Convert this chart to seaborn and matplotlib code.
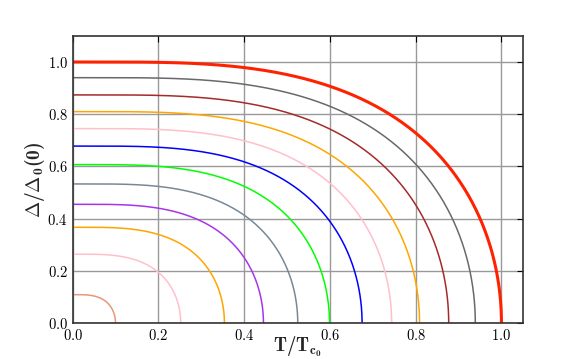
import numpy as np
import pandas as pd
import seaborn as sns
import matplotlib
matplotlib.use("Agg")
import matplotlib.pyplot as plt
from matplotlib.ticker import FuncFormatter

# gap at T=0 and critical temperature of each curve
gap0 = [1.0, 0.940, 0.874, 0.810, 0.745, 0.678, 0.607, 0.533, 0.455, 0.367, 0.264, 0.109]
tc = [1.0, 0.939, 0.877, 0.809, 0.744, 0.675, 0.599, 0.525, 0.445, 0.354, 0.252, 0.100]
colors = ['#ff2200', 'dimgray', 'brown', 'orange', 'pink', 'blue', 'lime',
          'lightslategray', '#a535ec', 'orange', 'pink', 'darksalmon']
widths = [2.2] + [1.1] * 11

xticks = [0.0, 0.2, 0.4, 0.6, 0.8, 1.0]
yticks = [0.0, 0.2, 0.4, 0.6, 0.8, 1.0]


def gap_curve(d0, t_c, n=400):
    """BCS-like interpolation of the gap from T=0 up to t_c."""
    theta = np.linspace(0, np.pi / 2, n)
    t = t_c * np.sin(theta)
    with np.errstate(divide='ignore'):
        d = d0 * np.tanh(1.85 * np.sqrt(np.where(t > 0, t_c / np.maximum(t, 1e-12) - 1, np.inf)))
    d[-1] = 0.0
    return pd.DataFrame({'T': t, 'gap': d})


sns.set_style("white")
plt.rcParams['font.family'] = 'serif'
plt.rcParams['mathtext.fontset'] = 'custom'
plt.rcParams['mathtext.rm'] = 'cmr10'
plt.rcParams['mathtext.bf'] = 'cmb10'
plt.rcParams['xtick.direction'] = 'in'
plt.rcParams['ytick.direction'] = 'in'

fig, ax = plt.subplots(figsize=(5.81, 3.59), dpi=100)
fig.subplots_adjust(left=0.125, right=0.9, bottom=0.1, top=0.9)

for d0, t_c, c, w in zip(gap0, tc, colors, widths):
    df = gap_curve(d0, t_c)
    sns.lineplot(data=df, x='T', y='gap', color=c, linewidth=w, ax=ax,
                 sort=False, estimator=None)

ax.set_xlim(0, 1.05)
ax.set_ylim(0, 1.1)
ax.set_xticks(xticks)
ax.set_yticks(yticks)
fmt = FuncFormatter(lambda v, p: r'$\mathrm{%.1f}$' % v)
ax.xaxis.set_major_formatter(fmt)
ax.yaxis.set_major_formatter(fmt)
ax.tick_params(labelsize=10.5, top=True, right=True, length=4, width=0.8, colors='black')
ax.grid(True, color='#999999', linewidth=1.0)
for s in ax.spines.values():
    s.set_color('#333333')
    s.set_linewidth(1.2)

ax.set_xlabel(r'$\mathbf{T/T_{c_0}}$', fontsize=13.5, labelpad=-6)
ax.set_ylabel(r'$\mathbf{\Delta/\Delta_0(0)}$', fontsize=14, labelpad=0)

fig.savefig('out.png', dpi=100)
